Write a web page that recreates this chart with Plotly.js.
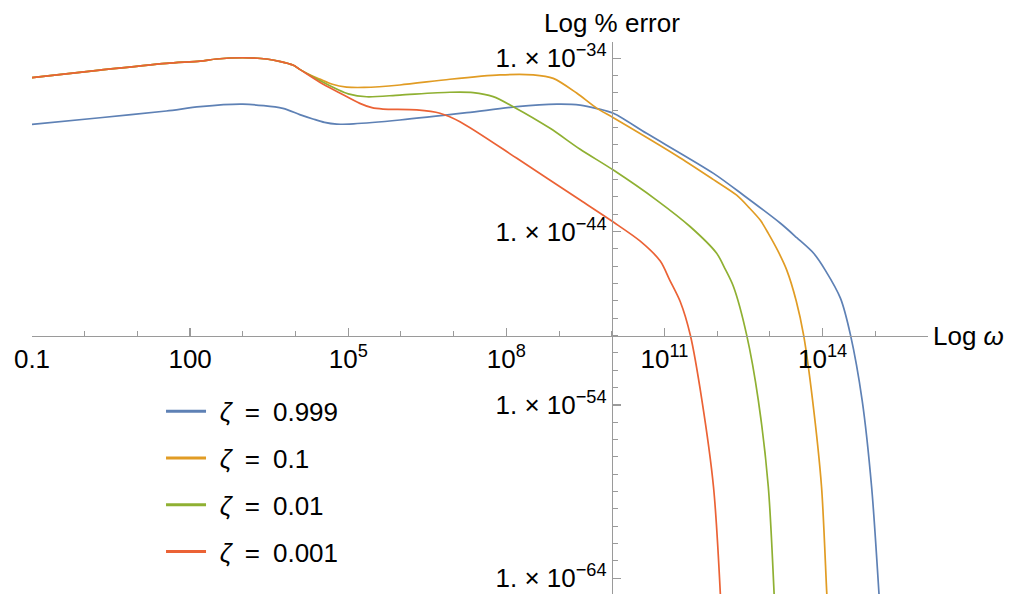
<!DOCTYPE html>
<html>
<head>
<meta charset="utf-8">
<script src="https://cdn.plot.ly/plotly-3.0.1.min.js"></script>
<style>html,body{margin:0;padding:0;background:#fff;}#chart{width:1018px;height:594px;}</style>
</head>
<body>
<div id="chart"></div>
<script>
// log10(omega) and log10(% error)
const blueLogW = [-1, 0.29, 1.55, 2.19, 3.0, 3.76, 4.08, 4.33, 4.55, 4.78, 5.1, 5.98, 7.25, 8.2, 8.96, 9.40, 9.72, 10.03, 10.66, 11.93, 12.5, 13.2, 13.51, 13.83, 14.05, 14.34, 14.53, 14.75, 14.93, 15.07, 15.1];
const blueLogE = [-37.81, -37.43, -37.04, -36.79, -36.65, -36.89, -37.25, -37.5, -37.7, -37.8, -37.78, -37.56, -37.14, -36.79, -36.65, -36.70, -36.9, -37.17, -38.33, -40.64, -41.9, -43.52, -44.35, -45.25, -46.22, -47.85, -49.97, -53.72, -58.72, -64.89, -66.5];

const orangeLogW = [-1, 0.29, 1.55, 2.19, 2.5, 3.0, 3.45, 3.95, 4.08, 4.3, 4.46, 4.7, 4.97, 5.3, 5.98, 6.93, 7.88, 8.51, 8.89, 9.34, 9.72, 10.03, 11.3, 11.93, 12.37, 12.6, 12.82, 12.97, 13.15, 13.32, 13.5, 13.64, 13.81, 13.98, 14.08, 14.11];
const orangeLogE = [-35.12, -34.68, -34.29, -34.16, -34.04, -33.97, -34.04, -34.39, -34.64, -35.0, -35.2, -35.5, -35.66, -35.68, -35.54, -35.21, -34.96, -34.96, -35.16, -36.02, -36.89, -37.43, -39.75, -41.0, -41.9, -42.6, -43.35, -44.1, -45.1, -46.22, -48.0, -49.97, -53.72, -58.72, -64.89, -66.5];

const greenLogW = [-1, 0.29, 1.55, 2.19, 2.5, 3.0, 3.45, 3.95, 4.08, 4.46, 4.8, 5.0, 5.35, 5.98, 6.93, 7.37, 7.75, 8.13, 8.83, 9.40, 10.03, 10.85, 11.49, 11.99, 12.15, 12.31, 12.56, 12.78, 12.97, 13.08, 13.1];
const greenLogE = [-35.12, -34.68, -34.29, -34.16, -34.04, -33.97, -34.04, -34.39, -34.64, -35.28, -35.8, -36.05, -36.22, -36.12, -35.96, -35.98, -36.21, -36.79, -38.04, -39.25, -40.45, -42.18, -43.72, -45.25, -46.15, -47.18, -49.97, -53.72, -58.72, -64.89, -66.5];

const redLogW = [-1, 0.29, 1.55, 2.19, 2.5, 3.0, 3.45, 3.95, 4.08, 4.46, 4.84, 5.22, 5.45, 5.66, 6.3, 6.74, 7.12, 8.2, 9.40, 10.03, 10.54, 10.92, 11.1, 11.3, 11.49, 11.71, 11.93, 12.06, 12.08];
const redLogE = [-35.12, -34.68, -34.29, -34.16, -34.04, -33.97, -34.04, -34.39, -34.64, -35.38, -36.0, -36.6, -36.85, -36.93, -36.98, -37.17, -37.66, -39.77, -42.18, -43.45, -44.55, -45.7, -46.8, -48.05, -49.97, -53.72, -58.72, -64.89, -66.5];

const SP = "\u2002";
const LEAD = "\u2004";
const zetaValues = ["0.999", "0.1", "0.01", "0.001"];
const seriesNames = zetaValues.map(v => LEAD + "<i>ζ</i>" + SP + "=" + SP + v);
const seriesColors = ["#5E81B5", "#E19C24", "#8FB032", "#EB6235"];

const xTickVals = [1e-1, 1e2, 1e5, 1e8, 1e11, 1e14];
const xTickText = ["0.1", "100", "10<sup>5</sup>", "10<sup>8</sup>", "10<sup>11</sup>", "10<sup>14</sup>"];
const yTickVals = [1e-64, 1e-54, 1e-44, 1e-34];
const yTickText = ["1. × 10<sup>−64</sup>", "1. × 10<sup>−54</sup>", "1. × 10<sup>−44</sup>", "1. × 10<sup>−34</sup>"];

// axis layout (log10 units)
const xRange = [-1, 16];
const yRange = [-64.91, -33.06];
const xCross = 10;   // y axis drawn at omega = 1e10
const yCross = -50;  // x axis drawn at error = 1e-50

const pw = v => Math.pow(10, v);
const minorX = [];
for (let e = Math.ceil(xRange[0]); e <= Math.floor(xRange[1]); e++) minorX.push(pw(e));
const minorY = [];
for (let e = Math.ceil(yRange[0]); e <= Math.floor(yRange[1]); e++) minorY.push(pw(e));

const allW = [blueLogW, orangeLogW, greenLogW, redLogW];
const allE = [blueLogE, orangeLogE, greenLogE, redLogE];

const traces = allW.map((w, i) => ({
  type: "scatter",
  mode: "lines",
  x: w.map(pw),
  y: allE[i].map(pw),
  name: seriesNames[i],
  legendgroup: "g" + i,
  showlegend: false,
  line: {color: seriesColors[i], width: 1.7, shape: "spline", smoothing: 0.8}
}));
// legend entries (thicker swatches, as in the reference)
seriesNames.forEach((n, i) => traces.push({
  type: "scatter", mode: "lines", x: [null], y: [null],
  name: n, legendgroup: "g" + i, showlegend: true,
  line: {color: seriesColors[i], width: 3}
}));

const FONT = "Liberation Sans, Arial, sans-serif";
const FS = 26;
const axisGray = "#9a9a9a";

const layout = {
  width: 1018, height: 594,
  margin: {l: 32, r: 90, t: 42, b: 0, pad: 0},
  paper_bgcolor: "#fff", plot_bgcolor: "#fff",
  font: {family: FONT, size: FS, color: "#000"},
  showlegend: true,
  legend: {
    x: 0.144, y: 0.3736, xanchor: "left", yanchor: "top",
    font: {family: FONT, size: FS, color: "#000"},
    itemwidth: 40,
    tracegroupgap: 10, bgcolor: "rgba(0,0,0,0)", borderwidth: 0
  },
  xaxis: {
    type: "log", range: xRange, anchor: "free",
    position: (yCross - yRange[0]) / (yRange[1] - yRange[0]),
    showline: true, linecolor: axisGray, linewidth: 1.3,
    showgrid: false, zeroline: false,
    ticks: "inside", ticklen: 8, tickwidth: 1.3, tickcolor: axisGray,
    tickmode: "array", tickvals: xTickVals, ticktext: xTickText,
    tickfont: {family: FONT, size: FS, color: "#000"},
    minor: {tickmode: "array", tickvals: minorX, ticks: "inside", ticklen: 4.5, tickwidth: 1, tickcolor: axisGray, showgrid: false}
  },
  yaxis: {
    type: "log", range: yRange, anchor: "free",
    position: (xCross - xRange[0]) / (xRange[1] - xRange[0]),
    showline: true, linecolor: axisGray, linewidth: 1.3,
    showgrid: false, zeroline: false,
    ticks: "inside", ticklen: 8, tickwidth: 1.3, tickcolor: axisGray,
    tickmode: "array", tickvals: yTickVals, ticktext: yTickText,
    tickfont: {family: FONT, size: FS, color: "#000"},
    minor: {tickmode: "array", tickvals: minorY, ticks: "inside", ticklen: 4.5, tickwidth: 1, tickcolor: axisGray, showgrid: false}
  },
  annotations: [
    {text: "Log % error", xref: "paper", yref: "paper",
     x: (xCross - xRange[0]) / (xRange[1] - xRange[0]), y: 1,
     xanchor: "center", yanchor: "bottom", yshift: 2, showarrow: false,
     font: {family: FONT, size: FS, color: "#000"}},
    {text: "Log <i>ω</i>", xref: "paper", yref: "paper",
     x: 1, y: (yCross - yRange[0]) / (yRange[1] - yRange[0]),
     xanchor: "left", yanchor: "middle", xshift: 3, showarrow: false,
     font: {family: FONT, size: FS, color: "#000"}}
  ]
};

Plotly.newPlot("chart", traces, layout, {staticPlot: true, displayModeBar: false});
</script>
</body>
</html>
